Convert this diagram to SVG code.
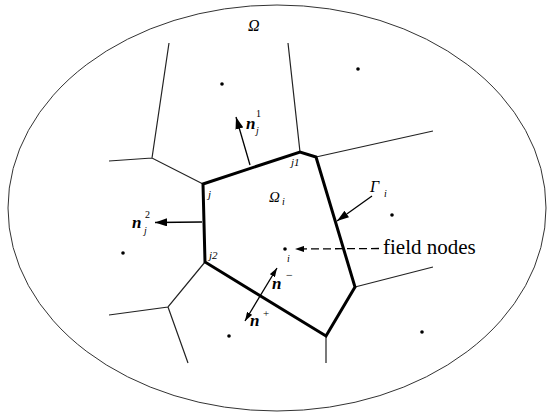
<svg xmlns="http://www.w3.org/2000/svg" width="547" height="413" viewBox="0 0 547 413">
<style>
.thin{fill:none;stroke:#222;stroke-width:1.2}
.thick{fill:none;stroke:#000;stroke-width:3;stroke-linejoin:miter}
.dot{fill:#000}
.t{font-family:"Liberation Serif","Times New Roman",serif;fill:#000}
.it{font-style:italic}
.nb{font-weight:bold;font-style:italic;font-size:17px}
.arr{fill:none;stroke:#000;stroke-width:1.3}
</style>
<defs>
<marker id="ah" viewBox="0 0 12 8" refX="12" refY="4" markerWidth="12" markerHeight="8" markerUnits="userSpaceOnUse" orient="auto-start-reverse"><path d="M0,0 L12,4 L0,8 z" fill="#000"/></marker>
<marker id="ahs" viewBox="0 0 9 6" refX="9" refY="3" markerWidth="9" markerHeight="6" markerUnits="userSpaceOnUse" orient="auto-start-reverse"><path d="M0,0 L9,3 L0,6 z" fill="#000"/></marker>
</defs>
<g id="domain">
<ellipse cx="277" cy="208" rx="269" ry="203" fill="none" stroke="#333" stroke-width="1"/>
<text class="t it" x="248" y="31" font-size="16">Ω</text>
</g>
<g id="cells">
<path class="thin" d="M300,152 L288,43 M316,157 L433,131 M203,184 L152,158 L109,161 M152,158 L169,43 M205,262 L168,307 L109,315 M168,307 L188,363 M355,287 L433,267 M326,336 L326,363"/>
</g>
<g id="cell-i">
<polygon class="thick" points="203,184 300,152 316,157 355,287 326,336 205,262"/>
<text class="t it" x="269" y="202" font-size="15">Ω</text>
<text class="t it" x="282" y="205" font-size="10">i</text>
<text class="t it" x="208" y="198" font-size="11">j</text>
<text class="t it" x="291" y="166" font-size="11">j1</text>
<text class="t it" x="209" y="259" font-size="11">j2</text>
</g>
<g id="nodes">
<circle class="dot" cx="222" cy="84" r="1.8"/>
<circle class="dot" cx="358" cy="69" r="1.8"/>
<circle class="dot" cx="392" cy="215" r="1.8"/>
<circle class="dot" cx="123" cy="253" r="1.8"/>
<circle class="dot" cx="229" cy="336" r="1.8"/>
<circle class="dot" cx="422" cy="332" r="1.8"/>
<circle class="dot" cx="285" cy="249" r="1.8"/>
<text class="t it" x="287" y="262" font-size="10">i</text>
</g>
<g id="connectors">
<line class="arr" x1="250" y1="165" x2="236" y2="117" marker-end="url(#ah)"/>
<line class="arr" x1="202" y1="222" x2="155" y2="222.5" marker-end="url(#ah)"/>
<line class="arr" x1="372" y1="196" x2="337" y2="221" marker-end="url(#ah)"/>
<line class="arr" x1="379" y1="248.5" x2="295" y2="249" stroke-dasharray="8,4" marker-end="url(#ahs)"/>
<line class="arr" x1="277" y1="268" x2="245" y2="321" marker-start="url(#ahs)" marker-end="url(#ahs)"/>
</g>
<g id="labels">
<text class="t" x="383" y="253.5" font-size="21">field nodes</text>
<text class="t it" x="370" y="192" font-size="16">Γ</text>
<text class="t it" x="384" y="197" font-size="10">i</text>
<text class="t nb" x="246" y="129">n</text>
<text class="t" x="256" y="117" font-size="10">1</text>
<text class="t it" x="256" y="134" font-size="10">j</text>
<text class="t nb" x="132" y="228">n</text>
<text class="t" x="145" y="218" font-size="10">2</text>
<text class="t it" x="144" y="234" font-size="10">j</text>
<text class="t nb" x="272" y="289">n</text>
<text class="t" x="286" y="279" font-size="12">−</text>
<text class="t nb" x="250" y="326">n</text>
<text class="t" x="263" y="317" font-size="11">+</text>
</g>
</svg>
